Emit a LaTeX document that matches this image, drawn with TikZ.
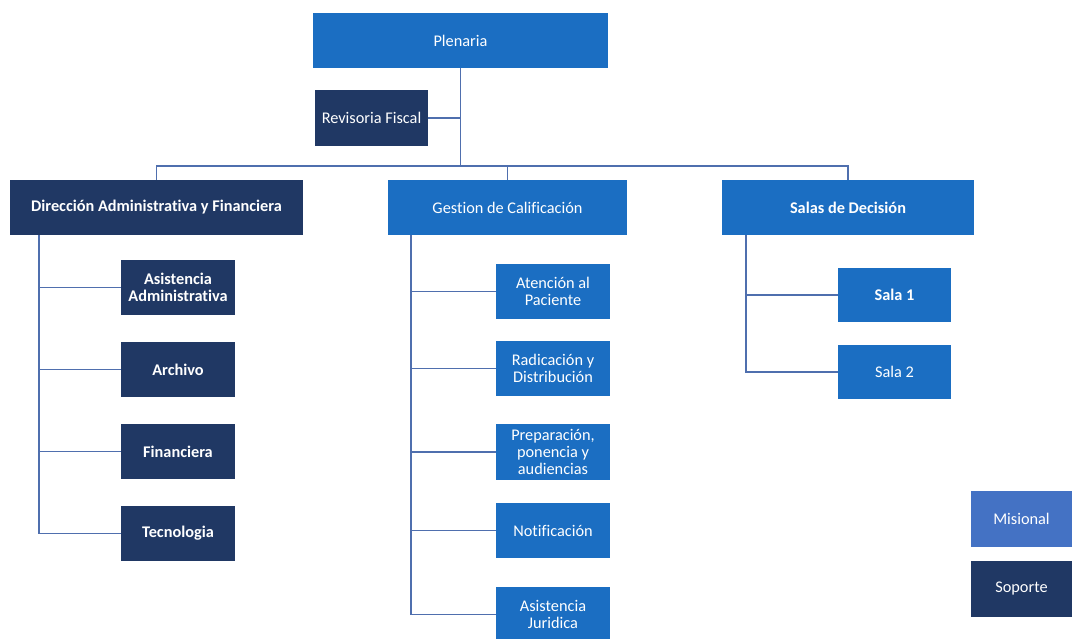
\documentclass[tikz,border=0pt]{standalone}
\usepackage{fontspec}
\setmainfont[Ligatures={NoCommon}]{Carlito}
\definecolor{midblue}{HTML}{1B6EC2}
\definecolor{navy}{HTML}{203864}
\definecolor{misblue}{HTML}{4472C4}
\definecolor{linec}{HTML}{4F6FAE}
\begin{document}
\begin{tikzpicture}[x=1pt,y=-1pt,
  box/.style={rectangle, inner sep=0pt, text=white, align=center,
    font=\fontsize{16.3}{17}\selectfont},
  mid/.style={box, fill=midblue},
  dark/.style={box, fill=navy},
  wb/.style={font=\fontsize{16.3}{17}\selectfont\bfseries},
  conn/.style={draw=linec, line width=1.8pt}]
\useasboundingbox (0,0) rectangle (1072,638);
\node[mid, minimum width=295pt, minimum height=55pt] (plen) at (460.5,40.5) {Plenaria};
\node[dark, minimum width=113pt, minimum height=56pt] (rev) at (371.5,118) {Revisoria Fiscal};
\node[dark, wb, minimum width=293pt, minimum height=55pt] (dir) at (156.5,207.5) {Dirección Administrativa y Financiera};
\node[mid, minimum width=239pt, minimum height=55pt] (ges) at (507.5,207.5) {Gestion de Calificación};
\node[mid, wb, minimum width=252pt, minimum height=55pt] (sal) at (848,207.5) {Salas de Decisión};
% left children
\node[dark, wb, minimum width=114pt, minimum height=55pt] (asad) at (178,287.5) {Asistencia\\Administrativa};
\node[dark, wb, minimum width=114pt, minimum height=55pt] (arch) at (178,369.5) {Archivo};
\node[dark, wb, minimum width=114pt, minimum height=55pt] (fin) at (178,451.5) {Financiera};
\node[dark, wb, minimum width=114pt, minimum height=55pt] (tec) at (178,533.5) {Tecnologia};
% middle children
\node[mid, minimum width=114pt, minimum height=55pt] (aten) at (553,291.5) {Atención al\\Paciente};
\node[mid, minimum width=114pt, minimum height=55pt] (radi) at (553,368.5) {Radicación y\\Distribución};
\node[mid, minimum width=114pt, minimum height=56pt] (prep) at (553,452) {Preparación,\\ponencia y\\audiencias};
\node[mid, minimum width=114pt, minimum height=55pt] (noti) at (553,530.5) {Notificación};
\node[mid, minimum width=114pt, minimum height=55pt] (asju) at (553,614.5) {Asistencia\\Juridica};
% right children
\node[mid, wb, minimum width=113pt, minimum height=54pt] (s1) at (894.5,295) {Sala 1};
\node[mid, minimum width=113pt, minimum height=54pt] (s2) at (894.5,372) {Sala 2};
% legend
\node[box, fill=misblue, minimum width=101pt, minimum height=56pt] (mis) at (1021.5,519) {Misional};
\node[dark, minimum width=101pt, minimum height=56pt] (sop) at (1021.5,589) {Soporte};
% connectors
\coordinate (bus) at (0,166);
\coordinate (lt) at (39,235);
\coordinate (mt) at (411,235);
\coordinate (rt) at (746,235);
\draw[conn] (plen.south) -- (plen.south |- bus);
\draw[conn] (rev.east) -- (rev.east -| plen.south);
\draw[conn] (dir.north) -- (dir.north |- bus) -- (sal.north |- bus) -- (sal.north);
\draw[conn] (ges.north) -- (ges.north |- bus);
\foreach \c in {asad,arch,fin,tec} \draw[conn] (lt) |- (\c.west);
\foreach \c in {aten,radi,prep,noti,asju} \draw[conn] (mt) |- (\c.west);
\foreach \c in {s1,s2} \draw[conn] (rt) |- (\c.west);
\end{tikzpicture}
\end{document}
